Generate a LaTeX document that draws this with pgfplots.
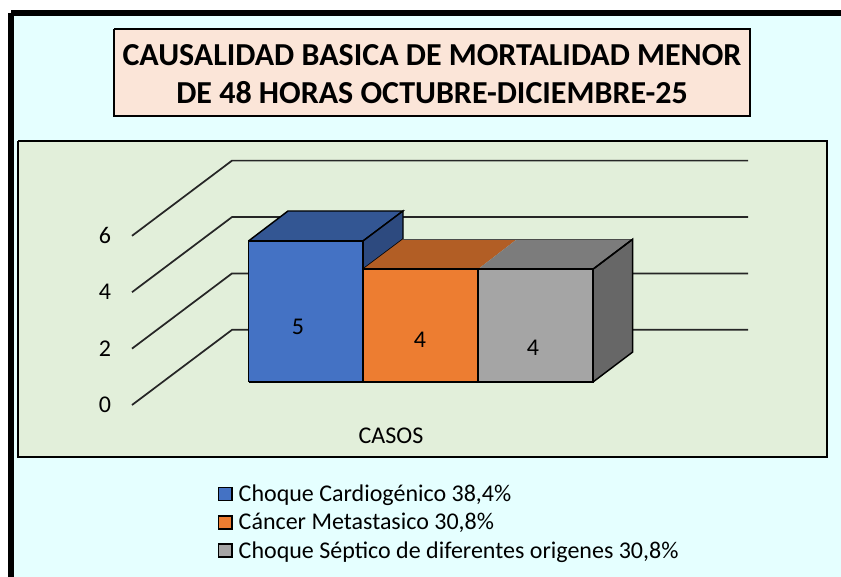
\documentclass[border=0pt]{standalone}
\usepackage{fontspec}
\setmainfont{Carlito}
\usepackage{pgfplots}
\pgfplotsset{compat=1.18}
\definecolor{bgc}{HTML}{E5FFFF}
\definecolor{titc}{HTML}{FBE5D8}
\definecolor{plotc}{HTML}{E2EFDA}
\definecolor{bluef}{HTML}{4472C4}
\definecolor{bluet}{HTML}{335693}
\definecolor{blues}{HTML}{2D4A7F}
\definecolor{orf}{HTML}{ED7D31}
\definecolor{ort}{HTML}{B25E25}
\definecolor{gyf}{HTML}{A5A5A5}
\definecolor{gyt}{HTML}{7C7C7C}
\definecolor{gys}{HTML}{676767}
\begin{document}
\begin{tikzpicture}
\path[use as bounding box] (0pt,0pt) rectangle (630.75pt,432pt);
\begin{axis}[
  at={(0pt,0pt)}, anchor=south west,
  width=630.75pt, height=432pt, scale only axis,
  xmin=0, xmax=841, ymin=-6.8794, ymax=13.5461,
  hide axis, clip=true,
  legend cell align=left,
  legend style={at={(axis cs:218,-3.65)},anchor=north west,draw=none,fill=none,
    font=\fontsize{18pt}{20pt}\selectfont,inner sep=0pt,outer sep=0pt,
    nodes={inner sep=0pt,outer sep=0pt},row sep=7.3pt},
  legend image code/.code={\draw[#1,line width=1.1pt,draw=black] (0pt,-4.7pt) rectangle (9.8pt,5.1pt); \path (14.8pt,0pt);},
]
% frame and panels
\addplot[forget plot,fill=bgc,draw=black,line width=4.5pt] coordinates {(11,13.085) (860,13.085) (860,-7.5) (11,-7.5) (11,13.085)};
\addplot[forget plot,fill=titc,draw=black,line width=1.1pt] coordinates {(114,12.518) (750,12.518) (750,9.433) (114,9.433) (114,12.518)};
\addplot[forget plot,fill=plotc,draw=black,line width=1.1pt] coordinates {(18,8.55) (827,8.55) (827,-2.660) (18,-2.660) (18,8.55)};
% walls: grid lines of the values 0, 2, 4, 6
\addplot[forget plot,draw=black!85,line width=1.3pt] coordinates {(132,-0.816) (232,1.85) (748,1.85)};
\addplot[forget plot,draw=black!85,line width=1.3pt] coordinates {(132,1.184) (232,3.85) (748,3.85)};
\addplot[forget plot,draw=black!85,line width=1.3pt] coordinates {(132,3.184) (232,5.85) (748,5.85)};
\addplot[forget plot,draw=black!85,line width=1.3pt] coordinates {(132,5.184) (232,7.85) (748,7.85)};
% bar 1: value 5
\addplot[forget plot,fill=bluet,draw=black,line width=1.1pt] coordinates {(248.5,5) (363,5) (403,6.064) (288,6.064) (248.5,5)};
\addplot[forget plot,fill=blues,draw=black,line width=1.1pt] coordinates {(363,5) (403,6.064) (403,5.064) (363,4) (363,5)};
\addplot[forget plot,fill=bluef,draw=black,line width=1.1pt] coordinates {(248.5,0) (363,0) (363,5) (248.5,5) (248.5,0)};
% bar 2: value 4
\addplot[forget plot,fill=ort,draw=none] coordinates {(363,4) (478,4) (517,5.064) (403,5.064) (363,4)};
\addplot[forget plot,fill=orf,draw=black,line width=1.1pt] coordinates {(363,0) (478,0) (478,4) (363,4) (363,0)};
% bar 3: value 4
\addplot[forget plot,fill=gyt,draw=none] coordinates {(478,4) (593,4) (632.7,5.064) (517,5.064) (478,4)};
\addplot[forget plot,draw=black!70,line width=0.8pt] coordinates {(403,5.064) (632.7,5.064)};
\addplot[forget plot,fill=gys,draw=black,line width=1.1pt] coordinates {(593,0) (632.7,1.064) (632.7,5.064) (593,4) (593,0)};
\addplot[forget plot,draw=black,line width=1.1pt] coordinates {(478,4) (593,4) (632.7,5.064)};
\addplot[forget plot,fill=gyf,draw=black,line width=1.1pt] coordinates {(478,0) (593,0) (593,4) (478,4) (478,0)};
% legend
\addlegendimage{fill=bluef}
\addlegendentry{Choque Cardiogénico 38,4\%}
\addlegendimage{fill=orf}
\addlegendentry{Cáncer Metastasico 30,8\%}
\addlegendimage{fill=gyf}
\addlegendentry{Choque Séptico de diferentes origenes 30,8\%}
% texts
\node[align=center,font=\fontsize{24pt}{28pt}\selectfont\bfseries] at (axis cs:432,10.92) {CAUSALIDAD BASICA DE MORTALIDAD MENOR\\DE 48 HORAS OCTUBRE-DICIEMBRE-25};
\node[font=\fontsize{18pt}{20pt}\selectfont] at (axis cs:105,-0.816) {0};
\node[font=\fontsize{18pt}{20pt}\selectfont] at (axis cs:105,1.184) {2};
\node[font=\fontsize{18pt}{20pt}\selectfont] at (axis cs:105,3.184) {4};
\node[font=\fontsize{18pt}{20pt}\selectfont] at (axis cs:105,5.184) {6};
\node[font=\fontsize{18pt}{20pt}\selectfont] at (axis cs:298,1.95) {5};
\node[font=\fontsize{18pt}{20pt}\selectfont] at (axis cs:420,1.50) {4};
\node[font=\fontsize{18pt}{20pt}\selectfont] at (axis cs:533,1.20) {4};
\node[font=\fontsize{18pt}{20pt}\selectfont] at (axis cs:391,-1.92) {CASOS};
\end{axis}
\end{tikzpicture}
\end{document}
